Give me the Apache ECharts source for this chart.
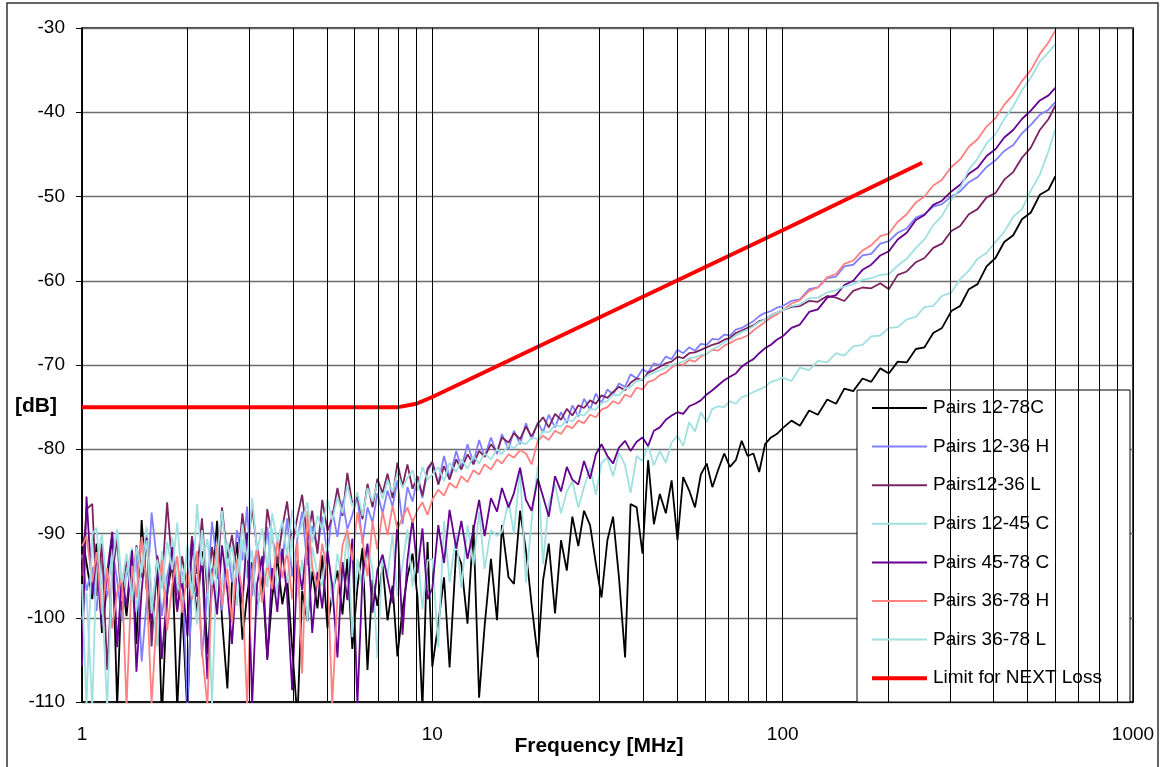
<!DOCTYPE html>
<html>
<head>
<meta charset="utf-8">
<title>NEXT loss</title>
<script src="https://cdn.jsdelivr.net/npm/echarts@6/dist/echarts.min.js"></script>
<style>
  html, body { margin: 0; padding: 0; background: #fff; }
  #chart { width: 1163px; height: 767px; }
</style>
</head>
<body>
<div id="chart"></div>
<script>
// sweep frequencies in MHz (shared by all measured pairs)
const freqMHz = [
  1.00, 1.03, 1.07, 1.10, 1.14, 1.18, 1.22, 1.26, 1.30, 1.34,
  1.39, 1.43, 1.48, 1.53, 1.58, 1.64, 1.69, 1.75, 1.81, 1.87,
  1.93, 2.00, 2.06, 2.13, 2.20, 2.28, 2.35, 2.43, 2.51, 2.60,
  2.68, 2.77, 2.87, 2.96, 3.06, 3.16, 3.27, 3.38, 3.49, 3.61,
  3.73, 3.85, 3.98, 4.12, 4.25, 4.40, 4.54, 4.70, 4.85, 5.02,
  5.18, 5.36, 5.54, 5.72, 5.91, 6.11, 6.32, 6.53, 6.75, 6.97,
  7.21, 7.45, 7.70, 7.95, 8.22, 8.49, 8.78, 9.07, 9.37, 9.69,
  10.0, 10.4, 10.8, 11.2, 11.7, 12.1, 12.6, 13.1, 13.6, 14.1,
  14.7, 15.3, 15.8, 16.5, 17.1, 17.8, 18.5, 19.2, 20.0, 20.7,
  21.5, 22.4, 23.3, 24.2, 25.1, 26.1, 27.1, 28.2, 29.3, 30.4,
  31.6, 32.8, 34.1, 35.5, 36.8, 38.3, 39.8, 41.3, 42.9, 44.6,
  46.4, 48.2, 50.1, 52.0, 54.1, 56.2, 58.4, 60.7, 63.0, 65.5,
  68.1, 70.7, 73.5, 76.4, 79.4, 82.5, 85.7, 89.1, 92.6, 96.2,
  100, 106, 112, 119, 126, 134, 142, 150, 159, 169,
  179, 190, 201, 213, 226, 240, 254, 269, 285, 303,
  321, 340, 360, 382, 405, 429, 455, 482, 511, 542,
  574, 600
]

const pairs1278C = [
  -90.0, -93.5, -97.8, -91.2, -101.8, -96.0, -90.2, -110.5, -95.4, -99.8,
  -92.6, -103.1, -88.4, -96.7, -101.5, -94.0, -112.0, -97.3, -93.2, -110.8,
  -98.6, -111.5, -94.8, -99.4, -92.1, -104.3, -96.2, -88.5, -100.2, -108.4,
  -95.6, -91.0, -102.6, -97.3, -93.4, -99.1, -95.0, -104.8, -97.6, -92.8,
  -98.4, -95.2, -103.5, -112.0, -96.8, -100.4, -94.5, -98.9, -92.6, -101.2,
  -97.1, -94.4, -99.6, -93.0, -103.7, -96.4, -91.7, -106.2, -95.5, -98.6,
  -93.8, -100.3, -96.2, -104.6, -99.0, -95.1, -92.4, -97.5, -110.8, -91.0,
  -105.8, -100.7, -95.2, -105.9, -92.0, -93.6, -100.7, -89.0, -109.5, -101.0,
  -93.0, -100.3, -89.0, -95.2, -96.0, -87.3, -92.0, -98.4, -104.7, -95.6,
  -91.2, -99.5, -90.8, -94.4, -88.0, -91.5, -87.3, -89.0, -93.6, -97.6,
  -90.8, -88.0, -95.2, -104.7, -86.5, -86.9, -92.4, -81.3, -88.9, -85.3,
  -87.6, -83.7, -90.8, -83.3, -84.9, -86.9, -83.0, -81.7, -84.5, -82.4,
  -80.5, -82.1, -81.3, -79.0, -80.8, -80.5, -82.7, -79.4, -78.6, -78.2,
  -77.5, -76.6, -77.2, -75.4, -75.9, -74.1, -74.6, -72.8, -73.1, -71.6,
  -72.0, -70.4, -71.0, -69.6, -69.7, -68.1, -67.9, -66.2, -65.6, -63.6,
  -63.0, -61.0, -60.4, -58.3, -57.3, -55.4, -54.6, -52.7, -51.9, -49.8,
  -49.2, -47.6
]

const pairs1236H = [
  -92.5, -96.8, -94.0, -99.2, -93.1, -97.5, -91.8, -95.6, -100.4, -94.2,
  -96.9, -92.3, -105.2, -98.0, -87.5, -93.6, -99.8, -95.1, -92.0, -97.3,
  -94.5, -110.2, -96.1, -92.8, -104.6, -97.0, -88.6, -93.5, -99.1, -91.4,
  -95.8, -89.6, -93.2, -86.8, -97.4, -91.5, -94.6, -89.2, -96.3, -90.8,
  -93.4, -88.2, -95.1, -90.6, -87.4, -93.8, -89.1, -91.9, -88.0, -92.5,
  -87.3, -90.4, -86.1, -89.5, -87.8, -85.6, -91.2, -86.9, -88.7, -85.2,
  -87.6, -84.9, -86.8, -83.7, -88.9, -84.5, -86.2, -83.4, -85.8, -82.6,
  -81.6, -84.0, -80.8, -83.4, -80.2, -82.2, -79.4, -81.6, -78.9, -80.9,
  -78.6, -80.6, -78.2, -80.0, -77.8, -79.4, -76.9, -78.8, -76.8, -78.0,
  -75.9, -77.4, -75.6, -76.9, -74.8, -76.1, -74.0, -75.3, -73.4, -74.5,
  -72.9, -73.5, -72.2, -72.6, -71.1, -71.6, -70.5, -70.9, -69.8, -70.0,
  -69.0, -69.3, -68.2, -68.6, -67.9, -68.3, -67.5, -67.6, -66.9, -67.0,
  -66.4, -66.5, -65.8, -65.6, -65.2, -64.8, -64.2, -63.8, -63.6, -63.2,
  -63.0, -62.4, -62.2, -61.0, -60.8, -59.7, -59.5, -58.3, -58.1, -57.0,
  -56.8, -55.6, -55.3, -54.3, -53.8, -52.5, -52.1, -51.2, -50.9, -50.0,
  -49.4, -48.3, -47.7, -46.5, -45.7, -44.6, -43.9, -42.5, -41.5, -40.3,
  -39.7, -38.8
]

const pairs1236L = [
  -95.0, -87.1, -86.5, -97.4, -91.2, -106.2, -94.8, -90.6, -99.1, -93.0,
  -97.6, -91.4, -95.2, -89.7, -103.4, -92.6, -95.9, -86.3, -94.1, -99.3,
  -92.7, -96.5, -90.3, -94.8, -88.2, -97.1, -91.6, -95.4, -86.9, -93.0,
  -90.2, -94.7, -87.6, -92.3, -86.9, -91.8, -95.2, -87.1, -90.4, -93.6,
  -89.3, -86.2, -91.5, -88.0, -85.4, -90.8, -87.3, -92.4, -86.0, -89.7,
  -88.1, -84.6, -87.9, -82.8, -86.5, -85.6, -88.3, -84.1, -86.9, -83.5,
  -85.2, -82.9, -85.8, -81.6, -84.4, -81.8, -84.7, -83.2, -85.5, -82.3,
  -81.5, -84.2, -82.0, -83.6, -81.2, -82.4, -80.6, -81.8, -80.2, -80.9,
  -79.4, -80.3, -78.6, -79.2, -78.1, -78.8, -77.3, -78.5, -77.0, -76.2,
  -77.4, -75.8, -76.5, -75.2, -76.0, -74.8, -75.1, -74.2, -74.6, -73.6,
  -73.9, -73.2, -72.6, -73.0, -72.1, -71.6, -71.8, -70.9, -70.6, -70.2,
  -69.8, -69.6, -69.0, -69.2, -68.6, -68.5, -68.2, -67.9, -67.6, -67.4,
  -67.0, -66.8, -66.2, -65.9, -65.6, -65.3, -64.8, -64.6, -64.1, -63.8,
  -63.5, -63.1, -63.0, -62.4, -62.5, -61.8, -62.0, -62.4, -61.2, -60.8,
  -60.9, -60.3, -61.0, -59.3, -58.9, -57.8, -57.3, -56.1, -55.6, -54.1,
  -53.5, -52.1, -51.5, -50.1, -49.6, -48.0, -47.1, -45.4, -44.2, -42.1,
  -40.8, -39.2
]

const pairs1245C = [
  -100.2, -97.0, -110.6, -93.4, -90.1, -96.8, -92.3, -89.5, -98.0, -94.6,
  -91.7, -99.3, -93.6, -89.2, -96.9, -103.4, -92.1, -97.5, -90.4, -95.8,
  -97.9, -91.3, -94.6, -100.8, -89.6, -95.2, -110.3, -92.8, -96.3, -91.0,
  -94.1, -98.6, -90.7, -95.3, -92.0, -99.8, -93.6, -96.4, -89.4, -97.2,
  -92.8, -95.9, -90.3, -97.6, -93.1, -100.4, -91.6, -94.8, -96.2, -90.9,
  -98.3, -92.4, -95.7, -89.8, -102.3, -93.0, -96.6, -91.4, -94.2, -104.8,
  -92.6, -95.0, -90.2, -97.4, -93.8, -89.5, -96.3, -91.8, -99.0, -93.2,
  -93.0, -103.5, -88.5, -95.8, -90.2, -96.5, -89.0, -93.8, -87.4, -94.2,
  -89.6, -90.3, -89.8, -86.2, -90.0, -82.3, -95.8, -88.6, -82.0, -93.6,
  -86.4, -84.2, -87.6, -85.0, -83.8, -86.9, -84.5, -82.2, -85.4, -81.6,
  -81.0, -83.2, -80.4, -81.9, -85.2, -80.8, -81.4, -79.6, -81.9, -80.2,
  -81.6, -79.2, -78.4, -79.6, -76.8, -77.9, -75.6, -76.8, -75.2, -74.9,
  -75.0, -74.3, -74.6, -73.8, -73.6, -73.2, -72.9, -72.6, -72.0, -71.8,
  -71.5, -71.9, -70.3, -70.6, -69.5, -69.7, -68.6, -68.9, -67.8, -67.6,
  -66.6, -66.5, -65.6, -65.5, -64.6, -64.3, -63.1, -63.0, -61.8, -61.4,
  -59.8, -58.8, -57.4, -56.7, -55.4, -54.2, -52.4, -51.5, -49.3, -47.4,
  -44.6, -42.0
]

const pairs4578C = [
  -105.8, -85.6, -97.2, -92.4, -101.0, -94.6, -89.8, -103.5, -95.1, -98.7,
  -92.0, -106.4, -96.8, -90.5, -100.2, -93.3, -104.9, -97.1, -91.6, -99.0,
  -95.4, -102.2, -90.9, -97.5, -93.0, -107.3, -94.2, -99.6, -91.4, -96.8,
  -103.1, -93.7, -98.4, -89.9, -110.2, -96.0, -92.7, -105.0, -94.1, -99.3,
  -91.8, -97.4, -108.6, -93.2, -96.7, -90.4, -101.8, -94.6, -98.9, -92.1,
  -96.2, -104.7, -93.4, -97.9, -90.6, -110.3, -95.0, -91.2, -99.4, -94.3,
  -92.5, -95.4, -98.3, -88.6, -102.0, -93.1, -88.3, -94.7, -89.4, -97.8,
  -96.5, -89.0, -93.5, -87.2, -91.8, -88.5, -93.0, -89.6, -86.0, -90.3,
  -85.8, -87.4, -84.6, -86.9, -85.2, -82.2, -86.0, -87.3, -83.5, -85.6,
  -88.0, -83.2, -85.0, -82.1, -83.6, -84.2, -81.4, -83.5, -80.6, -79.4,
  -80.8, -81.7, -79.8, -79.0, -80.2, -79.1, -78.6, -79.6, -77.8, -77.4,
  -76.5, -76.0, -75.6, -75.8, -74.9, -74.6, -74.2, -73.5, -73.0, -72.4,
  -71.8, -71.4, -71.0, -70.2, -69.7, -69.3, -68.6, -68.0, -67.6, -67.0,
  -66.6, -65.6, -65.2, -63.7, -63.4, -62.0, -61.7, -60.5, -60.0, -58.7,
  -58.1, -57.0, -56.5, -55.1, -54.3, -52.8, -52.2, -51.0, -50.5, -49.4,
  -48.6, -47.3, -46.6, -45.2, -44.4, -43.0, -42.1, -40.8, -39.8, -38.6,
  -38.0, -37.1
]

const pairs3678H = [
  -91.5, -90.3, -95.8, -92.2, -99.6, -94.1, -101.3, -97.0, -95.2, -110.5,
  -93.8, -97.6, -90.4, -96.2, -110.2, -98.8, -93.1, -101.5, -96.0, -92.7,
  -99.4, -94.6, -97.8, -92.1, -103.9, -110.4, -95.7, -91.3, -98.5, -94.2,
  -100.6, -93.0, -96.9, -110.3, -94.4, -91.8, -98.2, -93.5, -96.6, -90.7,
  -95.3, -92.1, -97.8, -91.0, -106.6, -87.3, -93.9, -96.4, -91.2, -94.8,
  -110.2, -97.6, -91.4, -89.6, -93.2, -87.5, -90.8, -95.1, -88.6, -91.9,
  -87.4, -90.2, -86.7, -89.5, -88.1, -86.9, -88.7, -87.2, -86.3, -87.8,
  -86.0, -84.8, -85.5, -84.0, -84.6, -83.2, -83.9, -82.5, -83.0, -81.8,
  -82.4, -81.2, -81.7, -80.6, -81.0, -80.1, -80.5, -81.8, -79.0, -78.4,
  -78.9, -77.8, -78.2, -77.2, -77.5, -76.6, -76.9, -75.9, -76.2, -75.3,
  -75.0, -74.3, -74.6, -73.5, -73.8, -72.7, -72.9, -72.0, -71.8, -71.2,
  -70.9, -70.3, -69.8, -70.0, -69.4, -69.6, -69.0, -68.7, -68.2, -68.3,
  -67.7, -67.4, -67.0, -66.8, -66.5, -65.9, -65.4, -64.9, -64.4, -64.0,
  -63.5, -62.7, -62.3, -61.2, -60.8, -59.6, -59.2, -58.0, -57.6, -56.4,
  -55.8, -54.7, -54.4, -53.0, -52.1, -50.7, -50.0, -48.7, -48.0, -46.5,
  -45.6, -44.1, -43.2, -41.7, -40.7, -39.1, -37.9, -36.3, -35.0, -33.1,
  -31.7, -30.3
]

const pairs3678L = [
  -96.0, -110.5, -90.1, -89.3, -97.2, -110.8, -93.5, -89.6, -95.8, -92.4,
  -98.2, -91.6, -94.7, -90.8, -99.5, -93.1, -96.6, -91.0, -94.3, -88.7,
  -95.9, -92.2, -97.4, -86.5, -93.8, -90.6, -96.1, -92.7, -87.3, -94.0,
  -91.5, -95.3, -88.9, -93.2, -85.8, -92.0, -89.4, -94.1, -87.6, -91.0,
  -88.5, -92.6, -87.2, -90.4, -88.8, -86.3, -91.1, -87.9, -89.6, -86.0,
  -88.4, -85.7, -87.6, -84.3, -86.8, -85.1, -87.9, -84.6, -86.2, -84.0,
  -85.9, -83.7, -85.1, -82.8, -84.6, -83.4, -82.5, -84.9, -82.1, -83.6,
  -83.0, -82.1, -83.8, -81.6, -82.7, -81.2, -82.3, -80.8, -81.7, -80.5,
  -81.2, -80.0, -80.6, -79.5, -79.9, -79.1, -79.4, -78.6, -78.8, -77.9,
  -78.0, -77.1, -77.3, -76.5, -76.7, -75.8, -76.0, -75.2, -75.3, -74.5,
  -74.3, -73.5, -73.6, -72.8, -72.6, -71.9, -71.7, -71.2, -70.9, -70.6,
  -70.3, -70.0, -69.8, -69.6, -69.2, -69.1, -68.8, -68.7, -68.1, -67.8,
  -67.3, -67.0, -66.5, -66.1, -65.8, -65.4, -64.9, -64.6, -64.1, -63.8,
  -63.5, -63.0, -62.8, -62.1, -62.0, -61.4, -61.1, -60.7, -60.4, -59.9,
  -59.7, -59.3, -59.2, -58.2, -57.4, -56.1, -55.1, -53.4, -52.3, -50.4,
  -49.0, -46.8, -45.5, -43.7, -42.6, -40.8, -39.3, -37.4, -35.9, -34.0,
  -32.9, -31.9
]

// limit for NEXT loss
const limitFreq = [1, 8, 9, 10, 100, 250]
const limitDb = [-75, -75, -74.6, -73.8, -54.0, -46.0]

// minor log grid lines
const minorGridFreq = [2, 3, 4, 5, 6, 7, 8, 9, 20, 30, 40, 50, 60, 70, 80, 90, 200, 300, 400, 500, 600, 700, 800, 900]

const FONT = '"Liberation Sans", Arial, sans-serif'

// legend swatches: a flat bar inside a 55x14 box
const thinIcon = 'path://M0,0M0,6L55,6L55,8L0,8ZM55,14'
const thickIcon = 'path://M0,0M0,5L55,5L55,9L0,9ZM55,14'

const seriesDefs = [
  { name: 'Pairs 12-78C', color: '#000000', x: freqMHz, y: pairs1278C, width: 1.8 },
  { name: 'Pairs 12-36 H', color: '#8080FF', x: freqMHz, y: pairs1236H, width: 1.8 },
  { name: 'Pairs12-36 L', color: '#7A2262', x: freqMHz, y: pairs1236L, width: 1.8 },
  { name: 'Pairs 12-45 C', color: '#A0E0E0', x: freqMHz, y: pairs1245C, width: 1.8 },
  { name: 'Pairs 45-78 C', color: '#65008F', x: freqMHz, y: pairs4578C, width: 1.8 },
  { name: 'Pairs 36-78 H', color: '#FF8080', x: freqMHz, y: pairs3678H, width: 1.8 },
  { name: 'Pairs 36-78 L', color: '#A0E0E0', x: freqMHz, y: pairs3678L, width: 1.8 },
  { name: 'Limit for NEXT Loss', color: '#FF0000', x: limitFreq, y: limitDb, width: 4 }
]

function pts(xs, ys) { return xs.map((x, i) => [x, ys[i]]) }

const series = [{
  name: 'grid',
  type: 'line',
  data: [],
  silent: true,
  z: 1,
  markLine: {
    silent: true,
    symbol: 'none',
    animation: false,
    label: { show: false },
    emphasis: { disabled: true },
    lineStyle: { color: '#000', width: 1, type: 'solid' },
    data: minorGridFreq.map(f => ({ xAxis: f }))
  }
}]
seriesDefs.forEach(s => {
  series.push({
    name: s.name,
    type: 'line',
    data: pts(s.x, s.y),
    symbol: 'none',
    color: s.color,
    lineStyle: { color: s.color, width: s.width },
    emphasis: { disabled: true },
    clip: true,
    z: 2
  })
})

const chart = echarts.init(document.getElementById('chart'))
chart.setOption({
  animation: false,
  backgroundColor: '#fff',
  textStyle: { fontFamily: FONT },
  grid: {
    left: 82, top: 28, right: 30, bottom: 65,
    show: true, borderColor: '#000', borderWidth: 1.5, backgroundColor: 'transparent'
  },
  xAxis: {
    type: 'log',
    logBase: 10,
    min: 1,
    max: 1000,
    axisLine: { show: true, lineStyle: { color: '#000', width: 1.5 } },
    axisTick: { show: false },
    axisLabel: {
      margin: 23, fontSize: 19, color: '#000', fontFamily: FONT,
      formatter: v => String(Math.round(v))
    },
    splitLine: { show: true, lineStyle: { color: '#000', width: 1 } }
  },
  yAxis: {
    type: 'value',
    min: -110,
    max: -30,
    interval: 10,
    axisLine: { show: true, lineStyle: { color: '#000', width: 1.5 } },
    axisTick: { show: true, inside: false, length: 6, lineStyle: { color: '#000' } },
    axisLabel: { margin: 17, fontSize: 19, color: '#000', fontFamily: FONT },
    splitLine: { show: true, lineStyle: { color: '#6e6e6e', width: 1.3 } }
  },
  legend: {
    data: seriesDefs.map(s => ({ name: s.name, icon: s.width > 3 ? thickIcon : thinIcon })),
    orient: 'vertical',
    left: 872,
    top: 398.5,
    padding: 0,
    itemWidth: 55,
    itemHeight: 14,
    itemGap: 19.6,
    selectedMode: false,
    z: 10,
    textStyle: { fontSize: 19, color: '#000', fontFamily: FONT, padding: [0, 0, 0, 1] }
  },
  graphic: [
    {
      type: 'rect', z: 3, silent: true,
      shape: { x: 857, y: 390, width: 273, height: 312 },
      style: { fill: '#fff', stroke: '#000', lineWidth: 1 }
    },
    {
      type: 'rect', z: 20, silent: true,
      shape: { x: 7, y: 3, width: 1151, height: 800 },
      style: { fill: 'none', stroke: '#333', lineWidth: 1.5 }
    },
    {
      type: 'text', z: 20, x: 15, y: 406,
      style: { text: '[dB]', fontSize: 21, fontWeight: 'bold', fontFamily: FONT, fill: '#000', textVerticalAlign: 'middle' }
    },
    {
      type: 'text', z: 20, x: 599, y: 746,
      style: { text: 'Frequency [MHz]', fontSize: 21, fontWeight: 'bold', fontFamily: FONT, fill: '#000', textAlign: 'center', textVerticalAlign: 'middle' }
    }
  ],
  series: series
})
</script>
</body>
</html>
